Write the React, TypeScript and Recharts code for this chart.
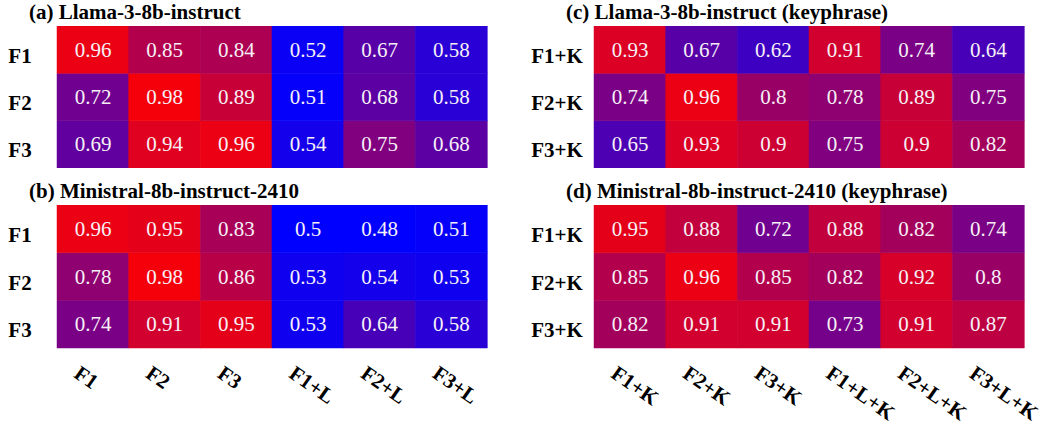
import React from 'react';
import { BarChart, Bar, Cell, XAxis, YAxis, LabelList } from 'recharts';

const COLS_BASE = ['F1', 'F2', 'F3', 'F1+L', 'F2+L', 'F3+L'];
const COLS_KEY = ['F1+K', 'F2+K', 'F3+K', 'F1+L+K', 'F2+L+K', 'F3+L+K'];
const ROWS_BASE = ['F1', 'F2', 'F3'];
const ROWS_KEY = ['F1+K', 'F2+K', 'F3+K'];

const LLAMA = [
  [0.96, 0.85, 0.84, 0.52, 0.67, 0.58],
  [0.72, 0.98, 0.89, 0.51, 0.68, 0.58],
  [0.69, 0.94, 0.96, 0.54, 0.75, 0.68],
];
const MINISTRAL = [
  [0.96, 0.95, 0.83, 0.5, 0.48, 0.51],
  [0.78, 0.98, 0.86, 0.53, 0.54, 0.53],
  [0.74, 0.91, 0.95, 0.53, 0.64, 0.58],
];
const LLAMA_KEY = [
  [0.93, 0.67, 0.62, 0.91, 0.74, 0.64],
  [0.74, 0.96, 0.8, 0.78, 0.89, 0.75],
  [0.65, 0.93, 0.9, 0.75, 0.9, 0.82],
];
const MINISTRAL_KEY = [
  [0.95, 0.88, 0.72, 0.88, 0.82, 0.74],
  [0.85, 0.96, 0.85, 0.82, 0.92, 0.8],
  [0.82, 0.91, 0.91, 0.73, 0.91, 0.87],
];

const SERIF = "'Liberation Serif'";
const VMIN = 0.5;
const VMAX = 1.0;

// blue -> red, linear in rgb
const colorFor = (v: number) => {
  const t = Math.max(0, Math.min(1, (v - VMIN) / (VMAX - VMIN)));
  const r = Math.round(255 * t);
  const b = Math.round(255 * (1 - t));
  return `rgb(${r},0,${b})`;
};

const PLOT_W = 430;
const AXIS_W = 80;
const PAD_R = 18;

const XTick = (props: any) => {
  const { x, y, payload } = props;
  const x0 = x - 20;
  const y0 = y + 28.5;
  return (
    <text
      x={x0}
      y={y0}
      transform={`rotate(35, ${x0}, ${y0})`}
      textAnchor="start"
      style={{ fontFamily: SERIF, fontWeight: 'bold', fontSize: 21 }}
      fill="#000"
    >
      {payload.value}
    </text>
  );
};

const makeYTick = (rows: string[]) => (props: any) => {
  const { x, y, payload } = props;
  const label = rows[rows.length - 1 - Math.floor(payload.value)];
  return (
    <text
      x={x - 37}
      y={y + 6}
      textAnchor="middle"
      dominantBaseline="central"
      style={{ fontFamily: SERIF, fontWeight: 'bold', fontSize: 21 }}
      fill="#000"
    >
      {label}
    </text>
  );
};

const CellLabel = (props: any) => {
  const { x, y, width, height, value } = props;
  return (
    <text
      x={x + width / 2}
      y={y + height / 2}
      textAnchor="middle"
      dominantBaseline="central"
      style={{ fontFamily: SERIF, fontSize: 21 }}
      fill="#f6f0f6"
    >
      {value}
    </text>
  );
};

interface HeatmapProps {
  title: string;
  rows: string[];
  cols: string[];
  values: number[][];
  plotLeft: number;
  plotTop: number;
  plotH: number;
  showX: boolean;
}

const Heatmap: React.FC<HeatmapProps> = ({ title, rows, cols, values, plotLeft, plotTop, plotH, showX }) => {
  const data = cols.map((c, j) => {
    const d: Record<string, any> = { col: c };
    rows.forEach((_, i) => {
      d[`r${i}`] = 1;
      d[`v${i}`] = values[i][j];
    });
    return d;
  });
  const order = rows.map((_, i) => rows.length - 1 - i);
  const xH = showX ? 75 : 0;

  return (
    <>
      <div
        style={{
          position: 'absolute',
          left: plotLeft - 28,
          top: plotTop - 26,
          fontFamily: SERIF,
          fontWeight: 'bold',
          fontSize: 21,
          whiteSpace: 'nowrap',
        }}
      >
        {title}
      </div>
      <div style={{ position: 'absolute', left: plotLeft - AXIS_W, top: plotTop }}>
        <BarChart
          width={AXIS_W + PLOT_W + PAD_R}
          height={plotH + xH}
          data={data}
          barCategoryGap={0}
          barGap={0}
          margin={{ top: 0, right: PAD_R, bottom: 0, left: 0 }}
        >
          <XAxis
            dataKey="col"
            hide={!showX}
            height={xH}
            axisLine={false}
            tickLine={false}
            tickSize={0}
            tickMargin={0}
            interval={0}
            tick={<XTick />}
          />
          <YAxis
            type="number"
            domain={[0, rows.length]}
            ticks={rows.map((_, i) => i + 0.5)}
            width={AXIS_W}
            axisLine={false}
            tickLine={false}
            tickSize={0}
            tickMargin={0}
            tick={makeYTick(rows)}
          />
          {order.map((i) => (
            <Bar key={`row-${i}`} dataKey={`r${i}`} stackId="a" isAnimationActive={false}>
              {data.map((_, j) => (
                <Cell
                  key={`cell-${i}-${j}`}
                  fill={colorFor(values[i][j])}
                  stroke={colorFor(values[i][j])}
                  strokeWidth={0.5}
                />
              ))}
              <LabelList dataKey={`v${i}`} content={<CellLabel />} />
            </Bar>
          ))}
        </BarChart>
      </div>
    </>
  );
};

export default function App() {
  return (
    <div style={{ position: 'absolute', left: 0, top: 0, width: 1042, height: 427, overflow: 'hidden', fontFamily: SERIF }}>
      <Heatmap title="(a) Llama-3-8b-instruct" rows={ROWS_BASE} cols={COLS_BASE} values={LLAMA}
        plotLeft={57} plotTop={26} plotH={142} showX={false} />
      <Heatmap title="(b) Ministral-8b-instruct-2410" rows={ROWS_BASE} cols={COLS_BASE} values={MINISTRAL}
        plotLeft={57} plotTop={205} plotH={143} showX={true} />
      <Heatmap title="(c) Llama-3-8b-instruct (keyphrase)" rows={ROWS_KEY} cols={COLS_KEY} values={LLAMA_KEY}
        plotLeft={594} plotTop={26} plotH={142} showX={false} />
      <Heatmap title="(d) Ministral-8b-instruct-2410 (keyphrase)" rows={ROWS_KEY} cols={COLS_KEY} values={MINISTRAL_KEY}
        plotLeft={594} plotTop={205} plotH={143} showX={true} />
    </div>
  );
}
